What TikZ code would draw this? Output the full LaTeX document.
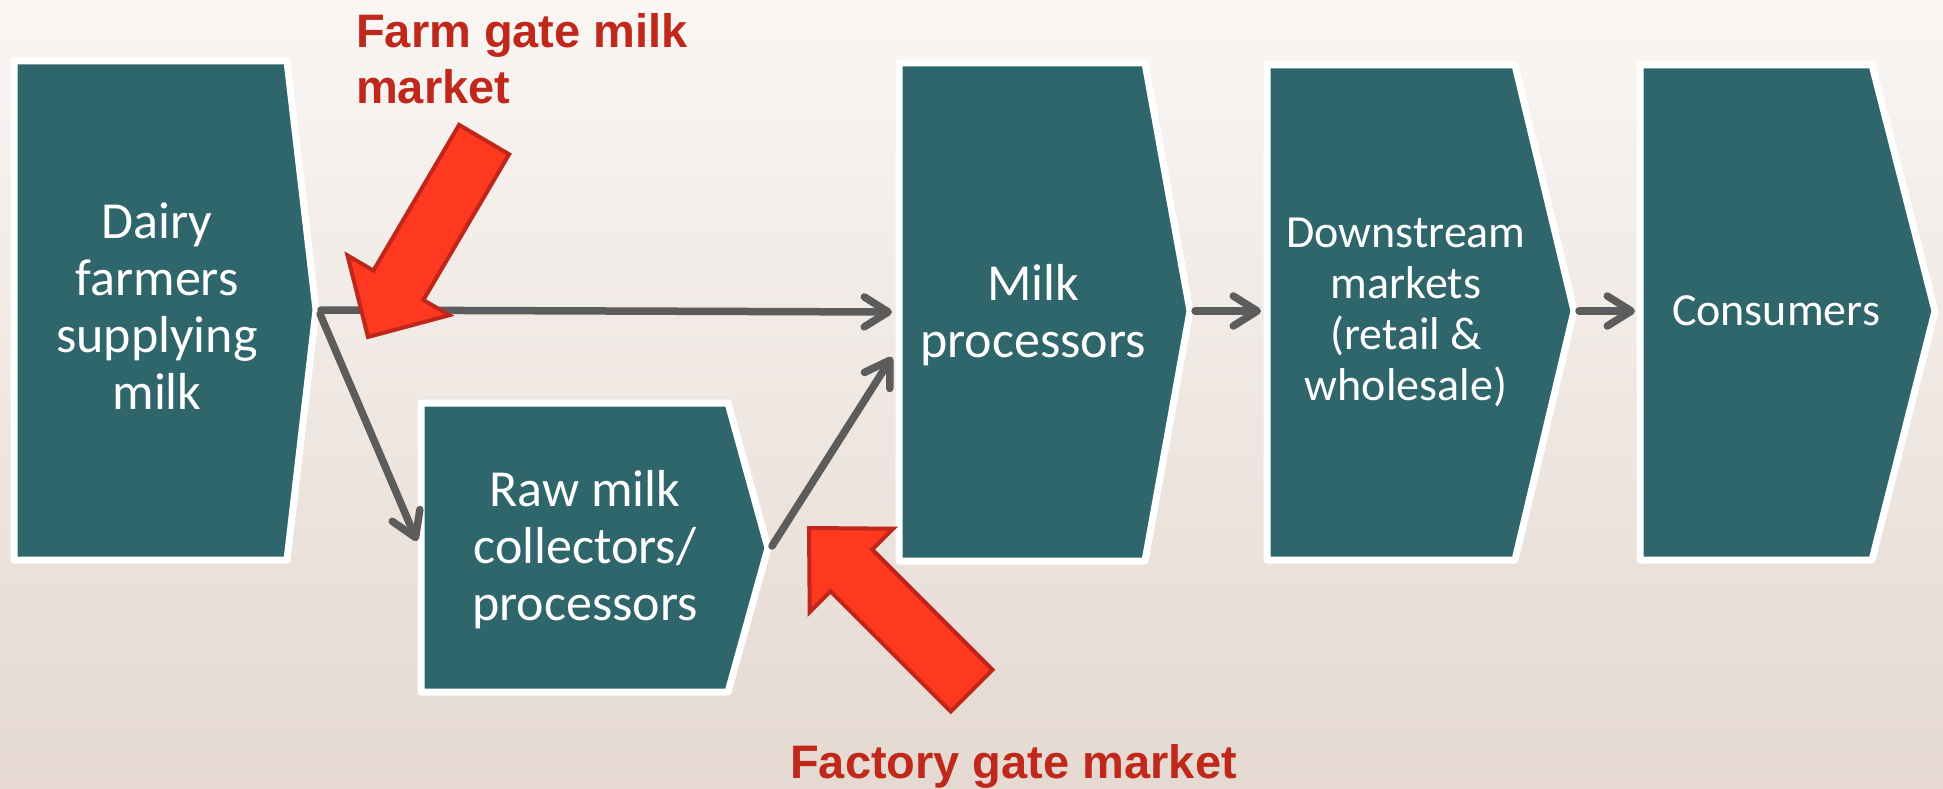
\documentclass[tikz,border=0pt]{standalone}
\usepackage{fontspec}
\setmainfont{Carlito}
\newfontfamily\arialfont{Liberation Sans}
\usetikzlibrary{arrows.meta,shadows}
\definecolor{bgtop}{RGB}{249,246,244}
\definecolor{bgbot}{RGB}{229,217,209}
\definecolor{boxteal}{RGB}{47,102,107}
\definecolor{flowgray}{RGB}{92,92,92}
\definecolor{redfill}{RGB}{255,56,32}
\definecolor{redline}{RGB}{192,38,26}
\definecolor{redtext}{RGB}{192,40,28}
\begin{document}
\begin{tikzpicture}[x=1pt,y=-1pt,
  stagebox/.style={fill=boxteal, draw=white, line width=7pt, line join=round,
    drop shadow={shadow xshift=2pt, shadow yshift=-3pt, opacity=0.25}},
  biglbl/.style={text=white, align=center, inner sep=0pt, font=\fontsize{52}{57}\selectfont},
  smalllbl/.style={text=white, align=center, inner sep=0pt, font=\fontsize{46}{51}\selectfont},
  flow/.style={draw=flowgray, line width=7.5pt, line cap=round,
    -{Straight Barb[length=24pt,width=30pt,line cap=round,line join=round]}},
  blockarrow/.style={fill=redfill, draw=redline, line width=4pt, line join=miter},
  redlbl/.style={text=redtext, inner sep=0pt, align=left, font=\arialfont\bfseries\fontsize{47}{56}\selectfont}]

\useasboundingbox (0,0) rectangle (1943,789);
\shade[top color=bgtop, bottom color=bgbot] (0,0) rectangle (1943,789);

% stage boxes
\draw[stagebox] (14,61) -- (287,61) -- (316,310) -- (287,560) -- (14,560) -- cycle;
\draw[stagebox] (421,403) -- (728,403) -- (768,548) -- (728,692) -- (421,692) -- cycle;
\draw[stagebox] (899,63) -- (1145,63) -- (1190,311) -- (1145,561) -- (899,561) -- cycle;
\draw[stagebox] (1267,65) -- (1515,65) -- (1574,311) -- (1515,560) -- (1267,560) -- cycle;
\draw[stagebox] (1640,65) -- (1872,65) -- (1935,311) -- (1872,560) -- (1640,560) -- cycle;

% labels
\node[biglbl] (dairy) at (157,306) {Dairy\\farmers\\supplying\\milk};
\node[biglbl] (raw) at (585,550) {Raw milk\\collectors/\\processors};
\node[biglbl] (proc) at (1033,315) {Milk\\processors};
\node[smalllbl] (down) at (1406,312) {Downstream\\markets\\(retail \&\\wholesale)};
\node[smalllbl] (cons) at (1776,311) {Consumers};

% connection points
\coordinate (dairyTip) at (321,310);
\coordinate (dairyTipB) at (320,314);
\coordinate (procIn) at (892,312);
\coordinate (rawIn) at (417,541);
\coordinate (rawTip) at (772,546);
\coordinate (procIn2) at (892,357);
\coordinate (procTip) at (1195,311);
\coordinate (downIn) at (1261,311);
\coordinate (downTip) at (1579,311);
\coordinate (consIn) at (1635,311);

% connectors
\draw[flow] (dairyTip) -- (procIn);
\draw[flow] (dairyTipB) -- (rawIn);
\draw[flow] (rawTip) -- (procIn2);
\draw[flow] (procTip) -- (downIn);
\draw[flow] (downTip) -- (consIn);

% red block arrows
\draw[blockarrow] (459.1,124.9) -- (373.4,270.6) -- (347.5,255.4) -- (368,337)
  -- (449.3,315.2) -- (423.4,300) -- (509.1,154.3) -- cycle;
\draw[blockarrow] (809,528) -- (893.1,528.7) -- (872.3,549.5) -- (992.5,669.7)
  -- (950.7,711.5) -- (830.5,591.3) -- (809.7,612.1) -- cycle;

% red labels
\node[redlbl, anchor=north west] (farmgate) at (356,13) {Farm gate milk\\market};
\node[redlbl, anchor=base west] (factorygate) at (790,778) {Factory gate market};
\end{tikzpicture}
\end{document}
